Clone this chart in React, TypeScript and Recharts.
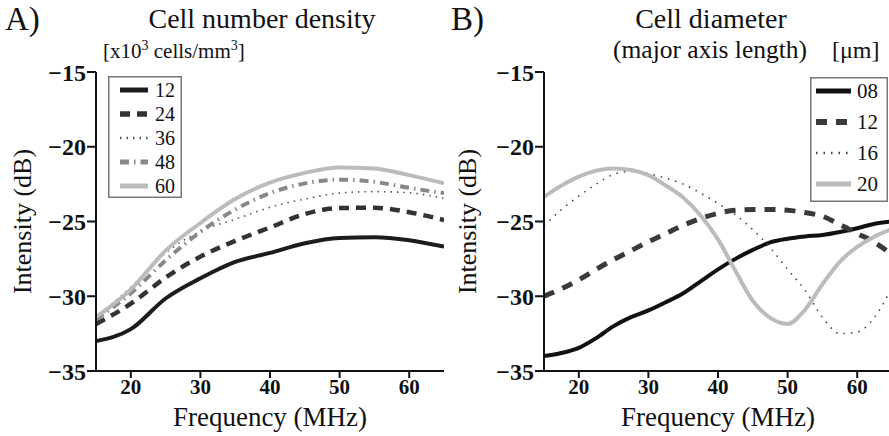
import React from "react";
import { LineChart, Line, XAxis, YAxis, Legend, Label } from "recharts";

// panel A: intensity vs frequency for several cell number densities
const freqA = [15, 20, 25, 30, 35, 40, 45, 50, 55, 60, 65];
const density12 = [-33.0, -32.2, -30.15, -28.8, -27.7, -27.1, -26.45, -26.1, -26.05, -26.25, -26.68];
const density24 = [-31.85, -30.5, -28.75, -27.35, -26.3, -25.4, -24.5, -24.1, -24.08, -24.38, -24.9];
const density36 = [-31.4, -29.4, -27.1, -25.65, -24.85, -24.05, -23.5, -23.1, -23.0, -23.08, -23.45];
const density48 = [-31.55, -29.8, -27.6, -25.7, -24.2, -23.1, -22.45, -22.2, -22.35, -22.75, -23.1];
const density60 = [-31.4, -29.55, -26.95, -25.1, -23.5, -22.4, -21.75, -21.38, -21.45, -21.9, -22.45];

// panel B: intensity vs frequency for several cell diameters
const freqB = [15, 17.5, 20, 22.5, 25, 27.5, 30, 32.5, 35, 37.5, 40, 42.5, 45, 47.5, 50, 52.5, 55, 57.5, 60, 62.5, 65];
const diam08 = [-34.0, -33.8, -33.45, -32.8, -32.0, -31.4, -30.95, -30.4, -29.8, -29.0, -28.2, -27.5, -26.9, -26.4, -26.15, -26.0, -25.9, -25.7, -25.45, -25.15, -25.0];
const diam12 = [-30.0, -29.5, -28.9, -28.2, -27.55, -26.95, -26.35, -25.8, -25.25, -24.8, -24.45, -24.25, -24.2, -24.2, -24.25, -24.4, -24.65, -25.2, -25.8, -26.4, -27.2];
const diam16 = [-25.3, -24.2, -23.3, -22.5, -21.85, -21.65, -21.8, -22.1, -22.5, -23.1, -23.8, -24.55, -25.55, -26.75, -28.2, -29.6, -31.4, -32.5, -32.4, -31.4, -29.4];
const diam20 = [-23.35, -22.6, -22.0, -21.6, -21.45, -21.55, -21.9, -22.6, -23.4, -24.6, -26.2, -28.3, -30.3, -31.45, -31.85, -30.9, -29.2, -27.7, -26.7, -26.0, -25.5];

const xTicks = [20, 30, 40, 50, 60];
const yTicks = [-35, -30, -25, -20, -15];

const dataA = freqA.map((f, i) => ({
  f,
  d12: density12[i],
  d24: density24[i],
  d36: density36[i],
  d48: density48[i],
  d60: density60[i],
}));

const dataB = freqB.map((f, i) => ({
  f,
  s08: diam08[i],
  s12: diam12[i],
  s16: diam16[i],
  s20: diam20[i],
}));

const FONT = "'Liberation Serif', 'Times New Roman', serif";
const INK = "#111";

type SeriesStyle = { key: string; name: string; color: string; width: number; dash?: string };

const seriesA: SeriesStyle[] = [
  { key: "d12", name: "12", color: "#1c1c1c", width: 4 },
  { key: "d24", name: "24", color: "#333", width: 4.5, dash: "10 7" },
  { key: "d36", name: "36", color: "#555", width: 1.6, dash: "1.5 5" },
  { key: "d48", name: "48", color: "#888", width: 4, dash: "9 5 1.5 5" },
  { key: "d60", name: "60", color: "#bbb", width: 4 },
];

const seriesB: SeriesStyle[] = [
  { key: "s08", name: "08", color: "#111", width: 4 },
  { key: "s12", name: "12", color: "#3a3a3a", width: 5, dash: "11 9" },
  { key: "s16", name: "16", color: "#444", width: 1.6, dash: "1.5 6" },
  { key: "s20", name: "20", color: "#bbb", width: 4 },
];

const fmt = (v: number) => `\u2212${Math.abs(v)}`;

function legendBox(series: SeriesStyle[], w: number, h: number, step: number, x1: number, x2: number, fs: number) {
  return () => (
    <svg width={w} height={h} style={{ display: "block" }}>
      <rect x={0.75} y={0.75} width={w - 1.5} height={h - 1.5} fill="#fff" stroke="#777" strokeWidth={1.5} />
      {series.map((s, i) => {
        const y = 14 + i * step;
        return (
          <g key={s.key}>
            <line x1={x1} x2={x2} y1={y} y2={y} stroke={s.color} strokeWidth={s.width + 1} strokeDasharray={s.dash} />
            <text x={47} y={y} dy="0.35em" fontSize={fs} fontFamily={FONT} fill={INK}>
              {s.name}
            </text>
          </g>
        );
      })}
    </svg>
  );
}

const xLabel = (props: any) => {
  const vb = props.viewBox;
  return (
    <text x={vb.x + vb.width / 2} y={vb.y + 55} textAnchor="middle" fontSize={27} fontFamily={FONT} fill={INK}>
      Frequency (MHz)
    </text>
  );
};

const yLabel = (props: any) => {
  const vb = props.viewBox;
  const x = vb.x + 12;
  const y = vb.y + vb.height / 2;
  return (
    <text x={x} y={y} transform={`rotate(-90, ${x}, ${y})`} textAnchor="middle" dominantBaseline="central" fontSize={26} fontFamily={FONT} fill={INK}>
      Intensity (dB)
    </text>
  );
};

function Panel({ data, series, left, width, marginLeft, yWidth, marginRight, legend, legendPos }: any) {
  return (
    <div style={{ position: "absolute", left, top: 0 }}>
      <LineChart width={width} height={436} data={data} margin={{ top: 72, right: marginRight, bottom: 8, left: marginLeft }}>
        <XAxis
          dataKey="f"
          type="number"
          domain={[15, 65]}
          ticks={xTicks}
          allowDataOverflow
          height={57}
          tickSize={7}
          tickMargin={1}
          axisLine={{ stroke: INK, strokeWidth: 2 }}
          tickLine={{ stroke: INK, strokeWidth: 2 }}
          tick={{ fill: INK, fontSize: 21, fontWeight: "bold", fontFamily: FONT }}
        >
          <Label content={xLabel} />
        </XAxis>
        <XAxis
          xAxisId="top"
          orientation="top"
          dataKey="f"
          type="number"
          domain={[15, 65]}
          height={0}
          tick={false}
          tickLine={false}
          axisLine={{ stroke: INK, strokeWidth: 2 }}
        />
        <YAxis
          type="number"
          domain={[-35, -15]}
          ticks={yTicks}
          width={yWidth}
          tickSize={9}
          tickMargin={1}
          tickFormatter={fmt}
          axisLine={{ stroke: INK, strokeWidth: 2 }}
          tickLine={{ stroke: INK, strokeWidth: 2 }}
          tick={{ fill: INK, fontSize: 24, fontWeight: "bold", fontFamily: FONT }}
        >
          <Label content={yLabel} />
        </YAxis>
        <YAxis
          yAxisId="right"
          orientation="right"
          type="number"
          domain={[-35, -15]}
          width={0}
          tick={false}
          tickLine={false}
          axisLine={{ stroke: INK, strokeWidth: 2 }}
        />
        <Legend
          layout="vertical"
          align="center"
          verticalAlign="middle"
          content={legend}
          wrapperStyle={{ left: legendPos.left, top: legendPos.top, width: "auto", height: "auto", bottom: "auto" }}
        />
        {series.map((s: SeriesStyle) => (
          <Line
            key={s.key}
            dataKey={s.key}
            name={s.name}
            type="monotone"
            stroke={s.color}
            strokeWidth={s.width}
            strokeDasharray={s.dash}
            dot={false}
            activeDot={false}
            isAnimationActive={false}
          />
        ))}
      </LineChart>
    </div>
  );
}

export default function App() {
  return (
    <div
      style={{
        position: "absolute",
        left: 0,
        top: 0,
        width: 889,
        height: 436,
        overflow: "hidden",
        background: "#fff",
        fontFamily: FONT,
      }}
    >
      <Panel
        data={dataA}
        series={seriesA}
        left={0}
        width={460}
        marginLeft={10}
        yWidth={86}
        marginRight={16}
        legend={legendBox(seriesA, 74, 122, 24, 12, 40, 20)}
        legendPos={{ left: 108, top: 76 }}
      />
      <Panel
        data={dataB}
        series={seriesB}
        left={445}
        width={460}
        marginLeft={10}
        yWidth={89}
        marginRight={13}
        legend={legendBox(seriesB, 78, 125, 31, 6, 41, 21)}
        legendPos={{ left: 365, top: 77 }}
      />
      <svg width={889} height={436} style={{ position: "absolute", left: 0, top: 0, pointerEvents: "none" }}>
        <g fontFamily={FONT} fill={INK}>
          <text x={5} y={30} fontSize={33}>A)</text>
          <text x={262} y={28} fontSize={28} textAnchor="middle">Cell number density</text>
          <text x={103} y={58} fontSize={21}>
            [x10<tspan dy={-8} fontSize={14}>3</tspan>
            <tspan dy={8}> cells/mm</tspan>
            <tspan dy={-8} fontSize={14}>3</tspan>
            <tspan dy={8}>]</tspan>
          </text>
          <text x={451} y={30} fontSize={33}>B)</text>
          <text x={711} y={28} fontSize={28} textAnchor="middle">Cell diameter</text>
          <text x={613} y={58} fontSize={25.5}>(major axis length)</text>
          <text x={832} y={58} fontSize={24}>[μm]</text>
        </g>
      </svg>
    </div>
  );
}
